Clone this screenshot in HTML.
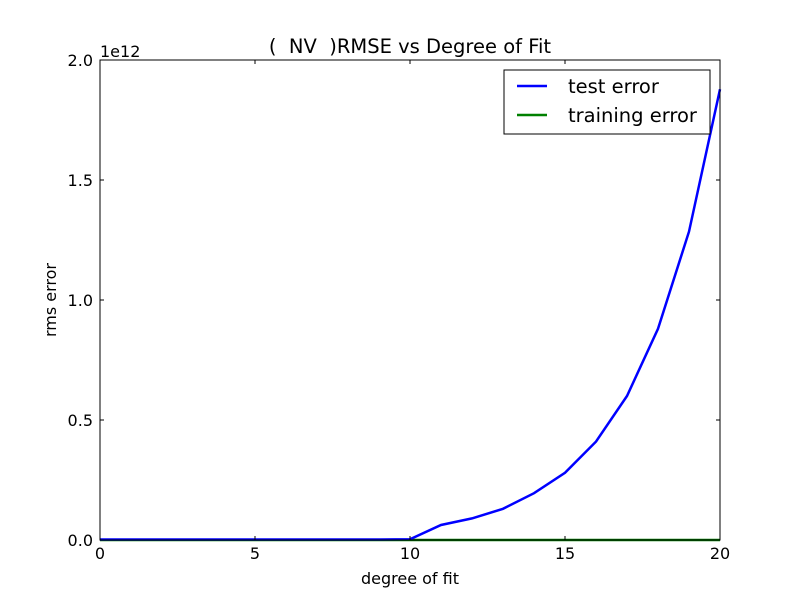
<!DOCTYPE html>
<html><head><meta charset="utf-8"><style>
body{margin:0;background:#fff;}
svg{display:block;font-family:"DejaVu Sans","Liberation Sans",sans-serif;}
text{white-space:pre;}
</style></head><body>
<svg id="chart" width="800" height="600">
<rect width="800" height="600" fill="#fff"/>
<g id="marks"></g>
<rect x="100" y="60" width="620" height="480" fill="none" stroke="#000" stroke-width="1"/>
<g id="ticks"></g>
<text x="100" y="57" font-size="16">1e12</text>
<text x="410" y="53" font-size="19.5" text-anchor="middle" xml:space="preserve">(  NV  )RMSE vs Degree of Fit</text>
<text x="410" y="584" font-size="16" text-anchor="middle">degree of fit</text>
<text x="56" y="300" font-size="16" text-anchor="middle" transform="rotate(-90 56 300)">rms error</text>
<g>
<rect x="504" y="70" width="206" height="64" fill="#fff" stroke="#000"/>
<line x1="517" y1="86" x2="547" y2="86" stroke="#0000ff" stroke-width="2.5"/>
<text x="568" y="93" font-size="19.5">test error</text>
<line x1="517" y1="115" x2="547" y2="115" stroke="#008000" stroke-width="2.5"/>
<text x="568" y="122" font-size="19.5">training error</text>
</g>
</svg>
<script>
const degrees=[0,1,2,3,4,5,6,7,8,9,10,11,12,13,14,15,16,17,18,19,20];
const testError=[0.002,0.002,0.002,0.002,0.002,0.002,0.002,0.002,0.002,0.002,0.003,0.0625,0.09,0.13,0.195,0.28,0.41,0.60,0.88,1.285,1.878];
const trainError=[0,0,0,0,0,0,0,0,0,0,0,0,0,0,0,0,0,0,0,0,0];
const xTicks=[0,5,10,15,20];
const yTicks=[0,0.5,1.0,1.5,2.0];
const yTickLabels=["0.0","0.5","1.0","1.5","2.0"];
const NS="http://www.w3.org/2000/svg";
const xS=v=>100+v*620/20, yS=v=>540-v*480/2;
const marks=document.getElementById('marks'), ticks=document.getElementById('ticks');
function line(vals,color,name){
  const p=document.createElementNS(NS,'polyline');
  p.setAttribute('points',degrees.map((d,i)=>xS(d)+','+yS(vals[i])).join(' '));
  p.setAttribute('fill','none');p.setAttribute('stroke',color);p.setAttribute('stroke-width','2.5');
  
  
  marks.appendChild(p);
}
line(trainError,'#008000','training-error-line');
line(testError,'#0000ff','test-error-line');
function mk(tag,attrs){const e=document.createElementNS(NS,tag);for(const k in attrs)e.setAttribute(k,attrs[k]);return e;}
xTicks.forEach(v=>{
  const x=xS(v);
  ticks.appendChild(mk('line',{x1:x,y1:540,x2:x,y2:536,stroke:'#000'}));
  ticks.appendChild(mk('line',{x1:x,y1:60,x2:x,y2:64,stroke:'#000'}));
  const t=mk('text',{x:x,y:559,'font-size':16,'text-anchor':'middle'});t.textContent=v;
  
  
  ticks.appendChild(t);
});
yTicks.forEach((v,i)=>{
  const y=yS(v);
  ticks.appendChild(mk('line',{x1:100,y1:y,x2:104,y2:y,stroke:'#000'}));
  ticks.appendChild(mk('line',{x1:720,y1:y,x2:716,y2:y,stroke:'#000'}));
  const t=mk('text',{x:93,y:y+6,'font-size':16,'text-anchor':'end'});t.textContent=yTickLabels[i];
  
  
  ticks.appendChild(t);
});
</script>
</body></html>
